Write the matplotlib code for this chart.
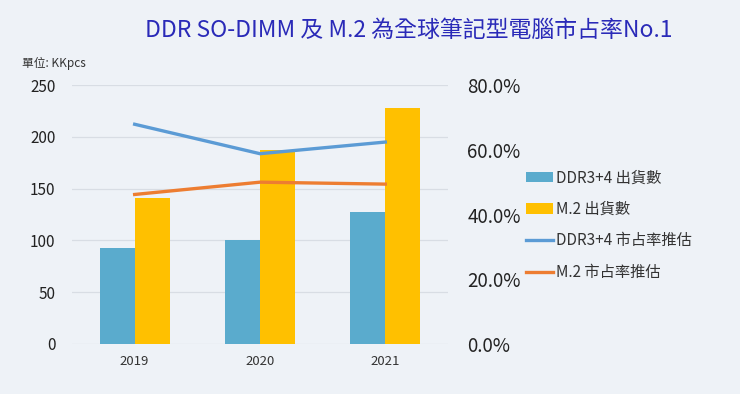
import matplotlib
matplotlib.use("Agg")
from matplotlib import pyplot as plt
import numpy as np

years = ['2019', '2020', '2021']
ddr_units = [93, 100, 127]
m2_units = [141, 187, 228]
ddr_share = [67.9, 58.8, 62.4]
m2_share = [46.2, 50.0, 49.4]

plt.rcParams['font.family'] = ['Noto Sans CJK TC', 'DejaVu Sans']

bg = '#EEF2F7'
fig = plt.figure(figsize=(7.4, 3.94), dpi=100, facecolor=bg)
ax = fig.add_axes([0.0973, 0.127, 0.508, 0.657])
ax.set_facecolor(bg)

x = np.arange(len(years))
w = 0.28
ax.bar(x - w / 2, ddr_units, w, color='#5AABCD', label='DDR3+4 出貨數', zorder=2)
ax.bar(x + w / 2, m2_units, w, color='#FFC000', label='M.2 出貨數', zorder=2)
ax.set_xlim(-0.5, 2.5)
ax.set_ylim(0, 250)
ax.set_yticks(range(0, 251, 50))
ax.set_xticks(x)
ax.set_xticklabels(years, fontsize=9.5, color='#333333')
ax.tick_params(axis='y', labelsize=11, colors='#222222', length=0, pad=12)
ax.tick_params(axis='x', length=0, pad=8)
ax.grid(axis='y', color='#D8DDE4', linewidth=0.9, zorder=0)
for s in ax.spines.values():
    s.set_visible(False)

ax2 = ax.twinx()
ax2.plot(x, ddr_share, color='#5B9BD5', linewidth=2.4, label='DDR3+4 市占率推估', zorder=3)
ax2.plot(x, m2_share, color='#ED7D31', linewidth=2.4, label='M.2 市占率推估', zorder=3)
ax2.set_ylim(0, 80)
ax2.set_yticks(range(0, 81, 20))
ax2.set_yticklabels([f'{v:.1f}%' for v in range(0, 81, 20)])
ax2.tick_params(axis='y', labelsize=13.5, colors='#222222', length=0, pad=14)
for s in ax2.spines.values():
    s.set_visible(False)

h1, l1 = ax.get_legend_handles_labels()
h2, l2 = ax2.get_legend_handles_labels()
fig.legend(h1 + h2, l1 + l2, loc='upper left', bbox_to_anchor=(0.692, 0.605),
           frameon=False, fontsize=11, handlelength=1.8, handletextpad=0.15,
           labelspacing=0.95, labelcolor='#333333')

fig.text(0.552, 0.923, 'DDR SO-DIMM 及 M.2 為全球筆記型電腦市占率No.1',
         ha='center', va='center', fontsize=16.5, color='#2A2AB8')
fig.text(0.03, 0.84, '單位: KKpcs', ha='left', va='center', fontsize=8.5, color='#333333')

fig.savefig('out.png', dpi=100, facecolor=bg)
